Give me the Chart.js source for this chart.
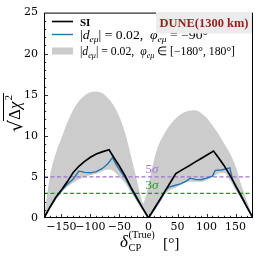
<!DOCTYPE html>
<html>
<head>
<meta charset="utf-8">
<script src="https://cdn.jsdelivr.net/npm/chart.js@4.4.0/dist/chart.umd.min.js"></script>
<style>
html, body { margin: 0; padding: 0; background: #fff; }
#wrap { width: 258px; height: 258px; }
</style>
</head>
<body>
<div id="wrap"><canvas id="chart" width="258" height="258"></canvas></div>
<script>
// Values (delta_CP in degrees, sqrt(dchi2))
const siDelta = [-180, -170, -160, -150, -140, -130, -120, -110, -100, -90, -80, -68, -60, -50, -40, -30, -20, -10, 0,
  10, 20, 30, 40, 47, 60, 70, 80, 90, 100, 112, 120, 130, 140, 150, 160, 170, 180];
const siChi = [0, 1.3, 2.5, 3.4, 4.4, 5.5, 6.3, 6.9, 7.4, 7.8, 8.05, 8.3, 7.4, 6.3, 5.1, 3.7, 2.45, 1.2, 0,
  1.15, 2.3, 3.45, 4.6, 5.4, 5.95, 6.37, 6.8, 7.22, 7.64, 8.15, 7.4, 6.4, 5.25, 3.95, 2.65, 1.3, 0];

const nsiDelta = [-180, -170, -160, -150, -140, -130, -125, -120, -115, -110, -100, -90, -80, -70, -62, -55, -50, -40, -30, -20, -10, 0,
  10, 20, 25, 30, 35, 45, 55, 65, 72, 80, 90, 100, 110, 115, 125, 135, 140, 145, 150, 160, 170, 180];
const nsiChi = [0, 1.25, 2.4, 3.3, 4.1, 4.7, 5.2, 5.7, 5.65, 5.55, 5.5, 5.65, 6.0, 6.6, 7.35, 6.4, 5.9, 4.85, 3.55, 2.3, 1.1, 0,
  1.05, 2.15, 2.75, 3.4, 3.75, 3.95, 4.15, 4.5, 4.85, 4.7, 4.65, 4.85, 5.1, 5.8, 5.85, 6.0, 6.1, 4.65, 3.85, 2.55, 1.25, 0];

const bandDelta = [-180, -175, -170, -160, -150, -140, -130, -120, -110, -100, -90, -80, -70, -60, -50, -40, -30, -20, -12, -9, -5, 0,
  5, 10, 15, 20, 30, 40, 50, 60, 70, 80, 90, 100, 110, 120, 130, 140, 150, 160, 170, 175, 180];
const bandUpper = [0, 2.6, 5.0, 7.8, 9.7, 11.6, 13.1, 14.2, 14.9, 15.3, 15.4, 15.2, 14.6, 13.7, 12.3, 10.3, 7.5, 4.6, 2.3, 1.8, 2.6, 4.0,
  5.7, 7.2, 8.4, 9.3, 10.6, 11.6, 12.3, 12.8, 13.05, 13.1, 12.8, 12.2, 11.3, 10.3, 9.1, 7.9, 6.3, 4.0, 2.0, 1.0, 0];
const bandLower = [0, 0.6, 1.1, 2.2, 3.1, 3.8, 4.3, 4.7, 5.0, 5.2, 5.4, 5.7, 5.9, 5.7, 5.0, 4.2, 3.1, 2.0, 1.2, 0.9, 0.5, 0,
  0.5, 1.0, 1.5, 2.0, 3.0, 3.5, 3.8, 4.2, 4.4, 4.4, 4.4, 4.6, 5.0, 5.4, 5.5, 4.6, 3.4, 2.3, 1.1, 0.5, 0];

const xTicks = [-150, -100, -50, 0, 50, 100, 150];
const yTicks = [0, 5, 10, 15, 20, 25];
const sigmaLevels = [5, 3];
const sigmaNames = ['5σ', '3σ'];
const sigmaColors = ['#9f72d6', '#1f9a1f'];

const toPts = (xs, ys) => xs.map((v, i) => ({ x: v, y: ys[i] }));
const minus = v => String(v).replace('-', '\u2212');

function partFont(p, size, fam) {
  const small = p[1] === 's' || p[1] === 'u';
  const s = small ? size * 0.7 : size;
  let st = '';
  if (p[1] === 'i' || p[1] === 's') st = 'italic ';
  if (p[1] === 'b') st = 'bold ';
  return st + s.toFixed(1) + 'px ' + fam;
}

// draw a line of text with sub/superscripts, squeezed to a given width
function drawRich(ctx, parts, x, y, size, fam, width) {
  let w = 0;
  parts.forEach(p => { ctx.font = partFont(p, size, fam); w += ctx.measureText(p[0]).width; });
  const k = width ? width / w : 1;
  ctx.save();
  ctx.translate(x, y);
  ctx.scale(k, 1);
  let cx = 0;
  parts.forEach(p => {
    ctx.font = partFont(p, size, fam);
    let dy = 0;
    if (p[1] === 's') dy = size * 0.28;
    if (p[1] === 'u') dy = -size * 0.42;
    ctx.fillText(p[0], cx, dy);
    cx += ctx.measureText(p[0]).width;
  });
  ctx.restore();
  return w * k;
}

const serif = '"Liberation Serif", serif';

const decorations = {
  id: 'decorations',
  afterDatasetsDraw(chart) {
    const { ctx, chartArea: a, scales: { x, y } } = chart;
    ctx.save();

    // sigma labels
    ctx.textBaseline = 'alphabetic';
    sigmaLevels.forEach((lv, i) => {
      ctx.fillStyle = sigmaColors[i];
      drawRich(ctx, [[sigmaNames[i][0], 'r'], [sigmaNames[i][1], 'i']], x.getPixelForValue(0) - 3, y.getPixelForValue(lv + 0.5), 13, serif);
    });

    // inward ticks
    ctx.strokeStyle = '#000';
    ctx.lineWidth = 0.8;
    ctx.beginPath();
    for (let v = -170; v <= 170; v += 10) {
      const len = xTicks.includes(v) ? 4 : 2.2;
      const px = Math.round(x.getPixelForValue(v)) + 0.5;
      ctx.moveTo(px, a.bottom);
      ctx.lineTo(px, a.bottom - len);
    }
    for (let v = 1; v < 25; v++) {
      const len = yTicks.includes(v) ? 4 : 2.2;
      const py = Math.round(y.getPixelForValue(v)) + 0.5;
      ctx.moveTo(a.left, py);
      ctx.lineTo(a.left + len, py);
    }
    ctx.stroke();

    // frame
    ctx.lineWidth = 1;
    ctx.strokeRect(a.left + 0.5, a.top + 0.5, a.width - 1, a.height - 1);

    // legend
    ctx.lineWidth = 1.6;
    ctx.beginPath(); ctx.moveTo(52, 21.5); ctx.lineTo(73, 21.5); ctx.stroke();
    ctx.strokeStyle = '#1f77b4';
    ctx.lineWidth = 1.4;
    ctx.beginPath(); ctx.moveTo(52, 34.5); ctx.lineTo(73, 34.5); ctx.stroke();
    ctx.fillStyle = '#cccccc';
    ctx.fillRect(52, 47.5, 21, 7);

    ctx.fillStyle = '#000';
    drawRich(ctx, [['SI', 'b']], 80, 25.5, 11, serif);
    drawRich(ctx, [['|', 'r'], ['d', 'i'], ['eμ', 's'], ['| = 0.02,  ', 'r'], ['φ', 'i'], ['eμ', 's'], [' = \u221290°', 'r']],
      80, 38.5, 12, serif, 128);
    drawRich(ctx, [['|', 'r'], ['d', 'i'], ['eμ', 's'], ['| = 0.02,  ', 'r'], ['φ', 'i'], ['eμ', 's'], [' ∈ [\u2212180°, 180°]', 'r']],
      80, 55, 12, serif, 155);

    // experiment box
    ctx.fillStyle = '#ececec';
    ctx.fillRect(156, 12, 96, 21.5);
    ctx.fillStyle = '#9b1c1c';
    drawRich(ctx, [['DUNE(1300 km)', 'b']], 159.5, 27, 13, serif, 89);

    // x title
    ctx.fillStyle = '#000';
    const tx = 120;
    ctx.font = 'italic 17px ' + serif;
    ctx.fillText('δ', tx, 247);
    const dw = ctx.measureText('δ').width;
    drawRich(ctx, [['CP', 'r']], tx + dw + 0.5, 251, 10.5, serif);
    drawRich(ctx, [['(True)', 'r']], tx + dw + 0.5, 238, 10.5, serif);
    drawRich(ctx, [['[°]', 'r']], 163, 247.5, 15.5, serif);

    // y title, sqrt(delta chi^2)
    ctx.save();
    ctx.translate(20, 113);
    ctx.rotate(-Math.PI / 2);
    ctx.font = '19px "DejaVu Serif"';
    const sw = ctx.measureText('√').width;
    ctx.font = '17px ' + serif;
    const bw = ctx.measureText('Δχ').width;
    ctx.font = '11px ' + serif;
    const ew = ctx.measureText('2').width;
    const total = sw + bw + ew + 2;
    let cx = -total / 2;
    ctx.font = '19px "DejaVu Serif"';
    ctx.fillText('√', cx, 2);
    cx += sw;
    ctx.font = '17px ' + serif;
    ctx.fillText('Δ', cx, 0);
    const dlw = ctx.measureText('Δ').width;
    ctx.font = 'italic 17px ' + serif;
    ctx.fillText('χ', cx + dlw, 0);
    ctx.font = '11px ' + serif;
    ctx.fillText('2', cx + bw + 1, -8);
    ctx.lineWidth = 1;
    ctx.strokeStyle = '#000';
    ctx.beginPath();
    ctx.moveTo(cx - 1, -16.5);
    ctx.lineTo(cx + bw + ew + 3, -16.5);
    ctx.stroke();
    ctx.restore();

    ctx.restore();
  }
};

new Chart(document.getElementById('chart'), {
  type: 'line',
  data: {
    datasets: [
      {
        label: 'SI',
        data: toPts(siDelta, siChi),
        borderColor: '#000',
        borderWidth: 1.7,
        pointRadius: 0,
        fill: false,
        order: 0
      },
      {
        label: 'phi = -90',
        data: toPts(nsiDelta, nsiChi),
        borderColor: '#1f77b4',
        borderWidth: 1.4,
        pointRadius: 0,
        fill: false,
        order: 1
      },
      {
        label: '5 sigma',
        data: [{ x: -180, y: sigmaLevels[0] }, { x: 180, y: sigmaLevels[0] }],
        borderColor: sigmaColors[0],
        borderWidth: 1.4,
        borderDash: [4, 2.5],
        pointRadius: 0,
        fill: false,
        order: 2
      },
      {
        label: '3 sigma',
        data: [{ x: -180, y: sigmaLevels[1] }, { x: 180, y: sigmaLevels[1] }],
        borderColor: sigmaColors[1],
        borderWidth: 1.4,
        borderDash: [4, 2.5],
        pointRadius: 0,
        fill: false,
        order: 3
      },
      {
        label: 'band upper',
        data: toPts(bandDelta, bandUpper),
        borderWidth: 0,
        borderColor: 'rgba(0,0,0,0)',
        backgroundColor: '#cccccc',
        pointRadius: 0,
        cubicInterpolationMode: 'monotone',
        fill: '+1',
        order: 4
      },
      {
        label: 'band lower',
        data: toPts(bandDelta, bandLower),
        borderWidth: 0,
        borderColor: 'rgba(0,0,0,0)',
        pointRadius: 0,
        cubicInterpolationMode: 'monotone',
        fill: false,
        order: 5
      }
    ]
  },
  options: {
    responsive: false,
    animation: false,
    devicePixelRatio: 1,
    layout: { padding: { top: 9, right: 5, left: 0, bottom: 0 } },
    plugins: {
      legend: { display: false },
      tooltip: { enabled: false }
    },
    scales: {
      x: {
        type: 'linear',
        min: -180,
        max: 180,
        grid: { display: false, drawTicks: false },
        border: { display: false },
        afterBuildTicks: s => { s.ticks = xTicks.map(v => ({ value: v })); },
        afterFit: s => { s.height = 40; },
        ticks: {
          autoSkip: false,
          maxRotation: 0,
          padding: 3,
          color: '#000',
          font: { family: '"DejaVu Serif"', size: 11 },
          callback: v => minus(v)
        }
      },
      y: {
        min: 0,
        max: 25,
        grid: { display: false, drawTicks: false },
        border: { display: false },
        afterBuildTicks: s => { s.ticks = yTicks.map(v => ({ value: v })); },
        afterFit: s => { s.width = 44; },
        ticks: {
          padding: 6,
          color: '#000',
          font: { family: '"DejaVu Serif"', size: 11 },
          callback: v => minus(v)
        }
      }
    }
  },
  plugins: [decorations]
});
</script>
</body>
</html>
